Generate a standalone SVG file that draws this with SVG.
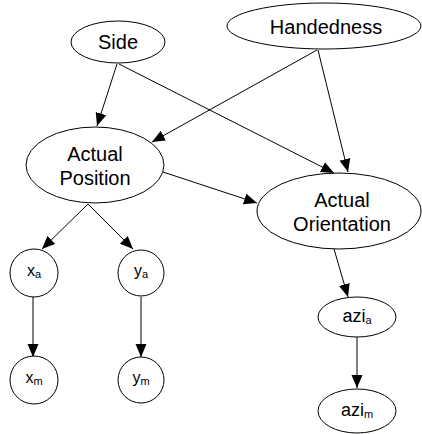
<svg xmlns="http://www.w3.org/2000/svg" width="422" height="434" viewBox="0 0 422 434">
<defs>
<marker id="arr" markerWidth="14" markerHeight="12" refX="13" refY="6" orient="auto" markerUnits="userSpaceOnUse">
<path d="M0,0.5 L13,6 L0,11.5 z" fill="#000"/>
</marker>
<style>
.n{fill:#fff;stroke:#000;stroke-width:1}
.t{font-family:"Liberation Sans",Arial,sans-serif;font-size:20px;fill:#000;text-anchor:middle}
.s{font-family:"Liberation Sans",Arial,sans-serif;font-size:16px;fill:#000;text-anchor:middle}
.m{font-family:"Liberation Sans",Arial,sans-serif;font-size:18px;fill:#000;text-anchor:middle}
.sub{font-size:11px}
.e{stroke:#000;stroke-width:1;fill:none;marker-end:url(#arr)}
</style>
</defs>
<rect width="422" height="434" fill="#fff"/>
<g id="edges">
<line class="e" x1="117" y1="64" x2="97" y2="126"/>
<line class="e" x1="119" y1="64" x2="334" y2="173"/>
<line class="e" x1="317" y1="50" x2="152" y2="142"/>
<line class="e" x1="318" y1="50" x2="348" y2="172"/>
<line class="e" x1="163" y1="172" x2="257" y2="203"/>
<line class="e" x1="88" y1="204" x2="42" y2="249"/>
<line class="e" x1="88" y1="204" x2="133" y2="249"/>
<line class="e" x1="33" y1="297" x2="33" y2="357"/>
<line class="e" x1="141" y1="297" x2="141" y2="357"/>
<line class="e" x1="334" y1="249" x2="348" y2="297"/>
<line class="e" x1="357" y1="337" x2="357" y2="388"/>
</g>
<g id="side"><ellipse class="n" cx="118" cy="42" rx="47" ry="21"/><text class="t" x="118" y="49">Side</text></g>
<g id="handedness"><ellipse class="n" cx="324" cy="26" rx="97" ry="23"/><text class="t" x="326" y="34">Handedness</text></g>
<g id="actual-position"><ellipse class="n" cx="95" cy="165" rx="69" ry="38"/><text class="t" x="95" y="161">Actual</text><text class="t" x="95" y="185">Position</text></g>
<g id="actual-orientation"><ellipse class="n" cx="339" cy="211" rx="82" ry="38"/><text class="t" x="342" y="207">Actual</text><text class="t" x="342" y="231">Orientation</text></g>
<g id="xa"><circle class="n" cx="34" cy="273" r="24"/><text class="s" x="34" y="276">x<tspan class="sub" dy="2">a</tspan></text></g>
<g id="ya"><circle class="n" cx="141" cy="273" r="23"/><text class="s" x="141" y="276">y<tspan class="sub" dy="2">a</tspan></text></g>
<g id="xm"><circle class="n" cx="34" cy="380" r="24"/><text class="s" x="34" y="383">x<tspan class="sub" dy="2">m</tspan></text></g>
<g id="ym"><circle class="n" cx="141" cy="380" r="23"/><text class="s" x="141" y="383">y<tspan class="sub" dy="2">m</tspan></text></g>
<g id="azia"><ellipse class="n" cx="357" cy="317" rx="39" ry="20"/><text class="m" x="357" y="322">azi<tspan class="sub" font-size="12" dy="2">a</tspan></text></g>
<g id="azim"><ellipse class="n" cx="357" cy="411" rx="39" ry="22"/><text class="m" x="357" y="416">azi<tspan class="sub" font-size="12" dy="2">m</tspan></text></g>
</svg>
